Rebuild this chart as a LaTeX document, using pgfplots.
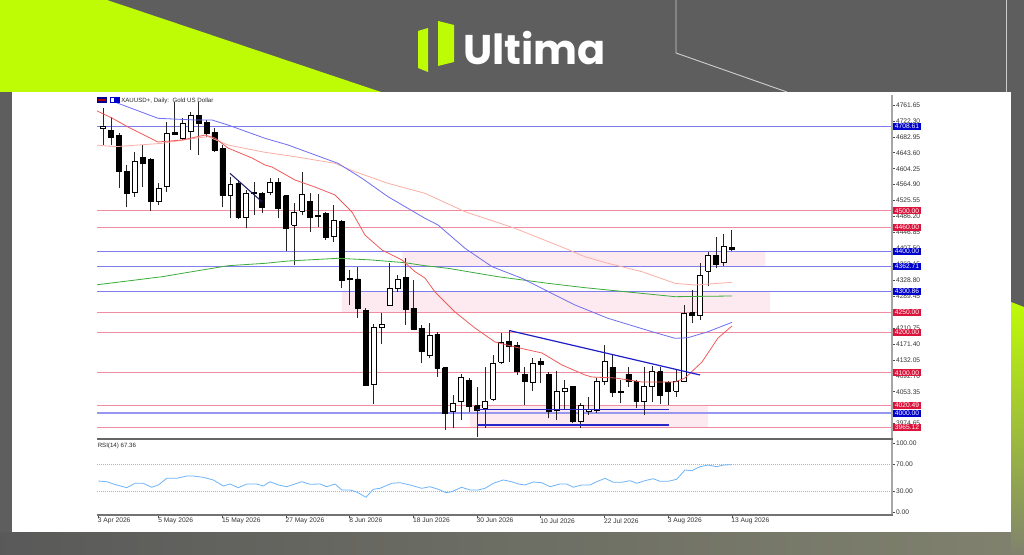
\documentclass[border=0pt]{standalone}
\usepackage{fontspec}
\setmainfont{Liberation Sans}
\newfontfamily\logofont{Poppins}
\usepackage{graphicx}
\usepackage{pgfplots}
\usepackage{pgfplotstable}
\pgfplotsset{compat=1.18}
\pgfplotsset{/pgf/number format/assume math mode=true}

\definecolor{bggray}{RGB}{94,94,94}
\definecolor{limeg}{RGB}{190,252,5}
\definecolor{olivegray}{RGB}{128,130,110}
\definecolor{zonepink}{RGB}{253,234,240}
\definecolor{lvlpink}{RGB}{240,140,160}
\definecolor{lvlblue}{RGB}{125,125,235}
\definecolor{boxred}{RGB}{220,20,60}
\definecolor{boxblue}{RGB}{0,0,205}
\definecolor{maRed}{RGB}{240,90,90}
\definecolor{maSalmon}{RGB}{250,175,165}
\definecolor{maBlue}{RGB}{110,110,240}
\definecolor{maGreen}{RGB}{60,170,60}
\definecolor{rsiBlue}{RGB}{110,180,250}
\definecolor{trendBlue}{RGB}{30,30,200}
\definecolor{navyline}{RGB}{30,30,110}
\definecolor{supBlue}{RGB}{40,40,200}

\newcommand\tinyfont{\fontsize{5}{6}\selectfont}
\newcommand\titlefont{\fontsize{4.6}{5.5}\selectfont}

% candles: bar index, open, high, low, close
\pgfplotstableread{
i o h l c
0 4703.6 4754.2 4662.9 4709.8
1 4699.9 4732.8 4662.9 4680.9
2 4687.5 4691.7 4555.9 4596.9
3 4598.6 4613.4 4510.5 4543.5
4 4545.0 4646.3 4535.2 4621.6
5 4631.5 4662.8 4559.9 4617.6
6 4627.5 4630.7 4499.8 4522.8
7 4522.8 4568.2 4514.6 4555.9
8 4559.9 4720.4 4547.5 4691.7
9 4693.5 4769.8 4687.5 4689.3
10 4679.4 4728.8 4674.2 4716.4
11 4695.7 4745.1 4650.5 4736.9
12 4736.9 4769.8 4638.2 4716.4
13 4717.9 4724.6 4683.4 4691.7
14 4693.5 4704.1 4646.3 4650.5
15 4654.7 4662.8 4510.5 4539.4
16 4539.4 4584.6 4481.8 4565.8
17 4568.2 4576.4 4480.1 4483.3
18 4483.3 4551.7 4457.1 4543.5
19 4546.0 4572.2 4489.9 4544.3
20 4543.5 4547.5 4494.1 4508.0
21 4545.0 4582.1 4539.3 4570.7
22 4570.7 4582.1 4481.8 4506.5
23 4537.6 4539.3 4401.0 4457.1
24 4465.2 4518.8 4366.4 4496.6
25 4499.8 4595.4 4489.9 4541.1
26 4524.5 4543.5 4448.7 4483.3
27 4489.2 4541.1 4461.0 4487.5
28 4494.1 4498.3 4428.2 4433.9
29 4436.4 4514.6 4424.0 4477.6
30 4475.1 4477.6 4310.4 4329.4
31 4332.6 4354.1 4267.6 4331.1
32 4331.9 4362.3 4236.3 4259.5
33 4255.3 4260.2 4068.3 4070.0
34 4071.8 4220.0 4022.4 4211.6
35 4212.6 4247.1 4170.6 4220.0
36 4265.9 4370.6 4265.9 4308.9
37 4308.9 4341.7 4300.5 4331.9
38 4335.1 4383.0 4218.2 4257.8
39 4259.5 4329.4 4205.9 4208.4
40 4210.1 4218.2 4123.6 4154.0
41 4144.1 4222.4 4136.0 4193.5
42 4195.3 4200.2 4090.6 4111.3
43 4112.8 4115.3 3958.9 4000.1
44 4004.1 4045.3 3963.1 4024.8
45 4028.8 4096.5 3983.6 4088.1
46 4082.4 4086.6 4004.1 4016.5
47 4018.9 4065.9 3942.4 4008.3
48 4012.5 4115.3 3963.1 4030.5
49 4035.5 4144.1 4030.5 4123.6
50 4126.1 4197.7 4121.2 4174.5
51 4178.7 4205.9 4127.6 4164.7
52 4167.1 4177.0 4094.7 4104.6
53 4096.5 4115.3 4020.6 4078.2
54 4076.7 4136.0 4055.2 4123.6
55 4127.6 4136.0 4074.2 4121.2
56 4096.5 4102.9 3987.8 4004.1
57 4008.3 4104.6 3983.6 4055.2
58 4053.5 4082.4 4008.3 4061.9
59 4065.9 4065.9 3975.4 3979.4
60 3979.4 4024.8 3963.1 4020.6
61 4005.8 4041.2 3995.9 4010.8
62 4008.3 4086.6 4000.1 4078.2
63 4079.9 4168.8 4070.0 4129.3
64 4112.8 4144.1 4041.2 4052.0
65 4051.0 4082.4 4024.8 4055.2
66 4096.5 4115.3 4065.9 4078.2
67 4079.9 4082.4 4012.5 4030.5
68 4028.8 4115.3 3995.9 4065.9
69 4065.9 4117.7 4028.8 4102.9
70 4102.9 4115.3 4022.4 4045.3
71 4076.7 4079.9 4020.6 4055.2
72 4055.2 4107.1 4041.2 4078.2
73 4078.2 4267.6 4076.7 4247.1
74 4248.6 4304.7 4222.4 4241.2
75 4241.2 4370.6 4230.6 4341.7
76 4351.6 4399.3 4315.3 4391.1
77 4391.1 4436.4 4358.3 4368.2
78 4373.1 4442.3 4364.7 4411.7
79 4409.2 4452.9 4401.0 4406.0
}\candles

\pgfplotstableread{
x y
-1.00 4749.3
1.13 4729.5
3.14 4707.3
6.91 4670.3
9.92 4675.2
12.81 4687.5
14.07 4680.1
15.70 4655.4
18.72 4630.7
20.35 4613.5
21.23 4608.5
24.12 4576.4
26.63 4559.1
29.15 4539.4
31.28 4497.4
32.91 4440.5
35.05 4403.5
37.56 4378.8
39.20 4349.9
40.45 4334.3
41.71 4299.8
44.22 4250.4
46.73 4210.8
49.25 4176.3
51.76 4163.9
55.15 4149.1
57.66 4119.5
60.55 4094.8
61.43 4089.8
64.32 4087.4
67.71 4077.5
71.86 4077.5
73.12 4087.4
75.25 4126.9
77.26 4186.1
79.02 4215.8
}\maredtab

\pgfplotstableread{
x y
-1.00 4662.9
1.51 4658.7
7.41 4667.0
11.56 4679.4
13.19 4683.4
15.70 4662.9
20.35 4644.8
24.12 4634.0
29.15 4617.6
31.66 4596.9
35.80 4568.2
40.45 4543.5
45.48 4498.1
51.76 4457.1
58.04 4407.7
60.55 4386.9
63.44 4370.6
67.71 4349.9
71.86 4321.2
74.37 4317.0
79.02 4323.7
}\masalmontab

\pgfplotstableread{
x y
1.13 4771.5
6.91 4728.8
11.56 4724.6
13.69 4724.6
15.70 4712.3
20.35 4679.4
23.24 4662.9
29.52 4617.6
32.54 4580.6
35.80 4535.2
40.45 4481.8
42.09 4465.3
45.48 4407.7
48.87 4362.3
52.64 4333.6
56.78 4292.4
59.30 4267.6
63.44 4234.8
68.97 4201.7
71.86 4185.4
73.49 4186.9
76.00 4201.7
79.02 4224.9
}\mabluetab

\pgfplotstableread{
x y
-1.00 4317.0
7.41 4337.5
15.70 4364.7
20.35 4370.6
23.24 4376.3
29.52 4383.0
33.79 4378.8
37.94 4372.1
40.45 4364.7
43.34 4358.3
49.62 4337.5
55.90 4321.2
60.55 4310.4
65.58 4300.5
71.86 4288.2
79.02 4289.9
}\magreentab

\pgfplotstableread{
x y
-0.59 45.3
0.46 44.3
1.72 39.6
2.98 35.7
4.02 42.0
5.06 42.0
6.12 36.3
6.95 39.6
8.00 49.2
9.26 49.2
10.52 52.5
11.34 52.5
12.60 50.6
13.86 46.8
15.11 38.1
15.95 41.0
17.00 35.7
18.05 41.0
19.31 41.0
20.14 38.1
20.98 44.3
22.02 39.6
23.08 37.1
24.96 44.3
26.01 40.6
27.26 41.0
28.10 37.1
29.15 41.0
29.99 32.4
31.03 32.4
31.87 29.5
33.04 21.9
33.96 33.4
34.80 34.8
36.27 42.0
37.31 42.9
38.57 39.6
40.04 34.8
41.08 37.1
42.12 33.4
43.09 28.5
43.81 29.9
45.06 36.3
46.11 32.4
47.15 32.4
47.99 34.8
49.03 42.0
50.29 46.8
51.34 44.3
52.17 41.0
53.02 39.6
54.06 43.9
55.11 42.9
56.16 37.1
57.41 41.0
58.25 41.0
59.08 36.3
60.14 39.6
61.18 39.6
62.02 44.3
63.07 49.2
64.11 43.5
65.16 43.5
66.21 45.8
67.05 42.0
68.09 45.8
69.13 48.6
69.97 44.9
71.02 44.9
72.07 47.8
73.12 61.2
73.96 60.1
75.00 65.9
76.04 68.3
77.09 65.9
77.93 68.3
78.98 68.8
}\rsitab

\tikzset{
  lblbox/.style={anchor=west, font=\tinyfont, text=white, inner sep=0pt,
    minimum width=21pt, minimum height=5.3pt, xshift=0.5pt},
}
\pgfplotsset{
  lvlP/.style={lvlpink, line width=0.8pt},
  lvlB/.style={lvlblue, line width=0.8pt},
}

\begin{document}
\begin{tikzpicture}[x=0.75pt,y=0.75pt]
\useasboundingbox (0,0) rectangle (1024,554);
% ---------- background ----------
\fill[bggray] (0,0) rectangle (1024,554);
\shade[left color=bggray!95!black, right color=olivegray] (0,0) rectangle (1024,22);
\shade[top color=limeg, bottom color=olivegray] (1011,252) -- (1024,247) -- (1024,0) -- (1011,0) -- cycle;
\begin{scope}[shift={(0,554)},yscale=-1]
  \fill[limeg] (0,0) -- (107,0) -- (381,92) -- (0,92) -- cycle;
  \draw[line width=0.7pt, black!20] (676,0) -- (676,53) -- (787,92);
  \draw[line width=0.7pt, black!20] (1006,0) -- (1006,92);
  \fill[white] (12,92) rectangle (1011,532);
  % logo
  \fill[limeg] (418,31) -- (428,28) -- (428,72) -- (418,68) -- cycle;
  \fill[limeg] (438,21) -- (454,25) -- (454,62) -- (438,66) -- cycle;
  \node[anchor=base west, inner sep=0pt, text=white] at (463,64.5)
    {\resizebox{107pt}{!}{\logofont\bfseries Ultima}};
\end{scope}

% ---------- price panel ----------
\begin{axis}[
  at={(72.75pt,86.625pt)}, anchor=south west, scale only axis,
  width=596.25pt, height=257.625pt,
  xmin=-0.754, xmax=99.12, ymin=3937.9, ymax=4786.35,
  axis x line=none, axis y line*=right, axis line style={draw=none},
  ytick={4761.65,4722.30,4682.95,4643.60,4604.25,4564.90,4525.55,4486.20,4446.85,4407.50,4368.15,4328.80,4289.45,4250.10,4210.75,4171.40,4132.05,4092.70,4053.35,4014.00,3974.65},
  tick align=outside, major tick length=2.25pt,
  ytick style={draw=black!70, line width=0.5pt},
  yticklabel style={font=\tinyfont, text=black!80, anchor=west, inner sep=0pt, xshift=0.6pt},
  yticklabel={\pgfmathprintnumber[fixed,fixed zerofill,precision=2,1000 sep={}]{\tick}},
  clip mode=individual,
]
% zones
\addplot[fill=zonepink, draw=none] coordinates {(37.6,4400) (83.2,4400) (83.2,4362.71) (37.6,4362.71) (37.6,4400)};
\addplot[fill=zonepink, draw=none] coordinates {(30.0,4300.86) (83.8,4300.86) (83.8,4250) (30.0,4250) (30.0,4300.86)};
\addplot[fill=zonepink, draw=none] coordinates {(46.1,4020.49) (76.0,4020.49) (76.0,3965.12) (46.1,3965.12) (46.1,4020.49)};
% level lines
\addplot[lvlB] coordinates {(-0.754,4708.61) (99.12,4708.61)};
\addplot[lvlP] coordinates {(-0.754,4500) (99.12,4500)};
\addplot[lvlP] coordinates {(-0.754,4460) (99.12,4460)};
\addplot[lvlB] coordinates {(-0.754,4400) (99.12,4400)};
\addplot[lvlB] coordinates {(-0.754,4362.71) (99.12,4362.71)};
\addplot[lvlB] coordinates {(-0.754,4300.86) (99.12,4300.86)};
\addplot[lvlP] coordinates {(-0.754,4250) (99.12,4250)};
\addplot[lvlP] coordinates {(-0.754,4200) (99.12,4200)};
\addplot[lvlP] coordinates {(-0.754,4100) (99.12,4100)};
\addplot[lvlP] coordinates {(-0.754,4020.49) (99.12,4020.49)};
\addplot[lvlblue!80, line width=1.3pt] coordinates {(-0.754,4000) (99.12,4000)};
\addplot[lvlP] coordinates {(-0.754,3965.12) (99.12,3965.12)};
% candles
\pgfplotsinvokeforeach{0,...,79}{%
  \pgfplotstablegetelem{#1}{o}\of\candles\let\co\pgfplotsretval
  \pgfplotstablegetelem{#1}{h}\of\candles\let\ch\pgfplotsretval
  \pgfplotstablegetelem{#1}{l}\of\candles\let\cl\pgfplotsretval
  \pgfplotstablegetelem{#1}{c}\of\candles\let\cc\pgfplotsretval
  \pgfmathsetmacro\xl{#1-0.31}%
  \pgfmathsetmacro\xr{#1+0.31}%
  \ifdim\co pt>\cc pt \def\cf{black}\else\def\cf{white}\fi
  \edef\cmd{\noexpand\addplot[black!85, line width=0.6pt] coordinates {(#1,\cl) (#1,\ch)};
    \noexpand\addplot[draw=black, line width=0.5pt, fill=\cf] coordinates {(\xl,\co) (\xr,\co) (\xr,\cc) (\xl,\cc) (\xl,\co)};}%
  \cmd
}
% moving averages
\addplot[maSalmon, line width=0.6pt] table[x=x,y=y] {\masalmontab};
\addplot[maGreen, line width=0.6pt] table[x=x,y=y] {\magreentab};
\addplot[maBlue, line width=0.6pt] table[x=x,y=y] {\mabluetab};
\addplot[maRed, line width=0.6pt] table[x=x,y=y] {\maredtab};
% trend and support lines
\addplot[navyline, line width=0.8pt] coordinates {(15.95,4592.9) (19.97,4522.8)};
\addplot[trendBlue, line width=0.9pt] coordinates {(51.13,4204.2) (75.0,4094.8)};
\addplot[supBlue, line width=1pt] coordinates {(47.0,4010.0) (71.1,4010.0)};
\addplot[supBlue, line width=1pt] coordinates {(47.0,3971.3) (71.1,3971.3)};
% price label boxes
\node[lblbox, fill=boxblue] at (axis cs:99.12,4708.61) {4708.61};
\node[lblbox, fill=boxred] at (axis cs:99.12,4500) {4500.00};
\node[lblbox, fill=boxred] at (axis cs:99.12,4460) {4460.00};
\node[lblbox, fill=boxblue] at (axis cs:99.12,4400) {4400.00};
\node[lblbox, fill=boxblue] at (axis cs:99.12,4362.71) {4362.71};
\node[lblbox, fill=boxblue] at (axis cs:99.12,4300.86) {4300.86};
\node[lblbox, fill=boxred] at (axis cs:99.12,4250) {4250.00};
\node[lblbox, fill=boxred] at (axis cs:99.12,4200) {4200.00};
\node[lblbox, fill=boxred] at (axis cs:99.12,4100) {4100.00};
\node[lblbox, fill=boxred] at (axis cs:99.12,4020.49) {4020.49};
\node[lblbox, fill=boxblue] at (axis cs:99.12,4000) {4000.00};
\node[lblbox, fill=boxred] at (axis cs:99.12,3965.12) {3965.12};
\end{axis}

% ---------- RSI panel ----------
\begin{axis}[
  at={(72.75pt,29.25pt)}, anchor=south west, scale only axis,
  width=596.25pt, height=56.25pt,
  xmin=-0.754, xmax=99.12, ymin=-3.6, ymax=104.3,
  axis x line*=bottom, axis y line*=right, axis line style={draw=none},
  xtick={-0.6,7,15,23,31,39,47,55,63,71,79},
  xticklabels={3 Apr 2026,5 May 2026,15 May 2026,27 May 2026,8 Jun 2026,18 Jun 2026,30 Jun 2026,10 Jul 2026,22 Jul 2026,3 Aug 2026,13 Aug 2026},
  tick align=outside, major tick length=2.25pt,
  tick style={draw=black!70, line width=0.5pt},
  xticklabel style={font=\tinyfont, text=black!80, anchor=north west, inner sep=0pt, xshift=-0.5pt},
  ytick={0,30,70,100},
  yticklabel style={font=\tinyfont, text=black!80, anchor=west, inner sep=0pt, xshift=0.6pt},
  yticklabel={\pgfmathprintnumber[fixed,fixed zerofill,precision=2,1000 sep={}]{\tick}},
  clip mode=individual,
]
\addplot[black!30, densely dotted, line width=0.5pt] coordinates {(-0.754,70) (99.12,70)};
\addplot[black!30, densely dotted, line width=0.5pt] coordinates {(-0.754,30) (99.12,30)};
\addplot[rsiBlue, line width=0.6pt] table[x=x,y=y] {\rsitab};
\end{axis}

% ---------- frame and titles ----------
\begin{scope}[shift={(0,554)},yscale=-1]
  \draw[black!35, line width=1.1pt] (892,95) -- (892,515);
  \draw[black!55, line width=0.8pt] (97,515) -- (892.5,515);
  \draw[black!60, line width=1.4pt] (97,438.8) -- (892.5,438.8);
  \fill[boxblue!70!black] (97,97.5) rectangle (107,103.5);
  \fill[red!70!black] (98,99.5) rectangle (106,101.5);
  \fill[boxblue] (110,97.5) rectangle (120,103.5);
  \fill[white] (111,98.5) rectangle (114,102.5);
  \node[anchor=west, inner sep=0pt, font=\titlefont, text=black!85] at (121,100.5) {XAUUSD+, Daily:\ \ Gold US Dollar};
  \node[anchor=west, inner sep=0pt, font=\titlefont, text=black!85] at (97.5,446) {RSI(14) 67.36};
\end{scope}
\end{tikzpicture}
\end{document}
